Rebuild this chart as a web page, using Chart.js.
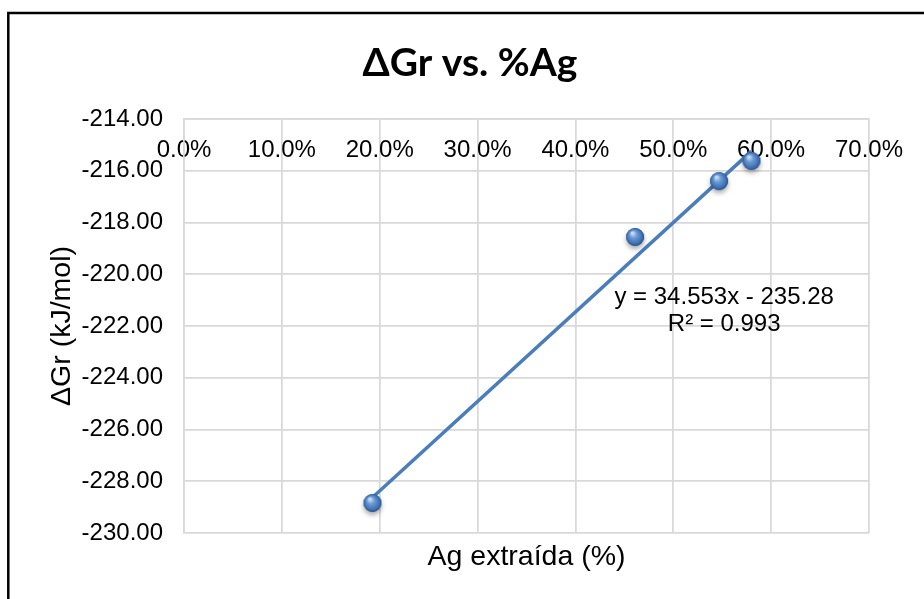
<!DOCTYPE html>
<html>
<head>
<meta charset="utf-8">
<title>ΔGr vs. %Ag</title>
<script src="https://cdn.jsdelivr.net/npm/chart.js@4.4.1/dist/chart.umd.min.js"></script>
<style>
  html, body { margin: 0; padding: 0; background: #fff; }
  canvas { display: block; }
</style>
</head>
<body>
<canvas id="grChart" width="924" height="599"></canvas>
<script>
// Silver extracted (fraction) vs. Gibbs energy of reaction
const agExtraida = [0.1926, 0.461, 0.5468, 0.5799];
const deltaGr = [-228.84, -218.56, -216.4, -215.62];

// linear trendline as reported
const trendSlope = 34.553;
const trendIntercept = -235.28;
const trendLabel = ["y = 34.553x - 235.28", "R² = 0.993"];

const yTicks = { min: -230, max: -214, step: 2 };
const xTicks = { min: 0, max: 0.7, step: 0.1 };

const AXIS_FONT = "'Liberation Sans', Arial, sans-serif";
const GRID = "#d9d9d9";

const xMin = Math.min(...agExtraida);
const xMax = Math.max(...agExtraida);
const trendPoints = [
  { x: xMin, y: trendSlope * xMin + trendIntercept },
  { x: xMax, y: trendSlope * xMax + trendIntercept },
];

// shaded sphere marker
function makeSphere(r) {
  const size = r * 2 + 14;
  const c = document.createElement("canvas");
  c.width = size;
  c.height = size;
  const g = c.getContext("2d");
  const cx = size / 2, cy = size / 2;
  g.save();
  g.shadowColor = "rgba(0,0,0,0.35)";
  g.shadowBlur = 5;
  g.shadowOffsetX = 0;
  g.shadowOffsetY = 3;
  g.beginPath();
  g.arc(cx, cy, r, 0, Math.PI * 2);
  g.fillStyle = "#3d6eab";
  g.fill();
  g.restore();
  const grad = g.createRadialGradient(cx - r * 0.3, cy - r * 0.45, r * 0.1, cx, cy, r);
  grad.addColorStop(0, "#c5dcf6");
  grad.addColorStop(0.35, "#6c9ad3");
  grad.addColorStop(0.8, "#3f72b3");
  grad.addColorStop(1, "#2a5088");
  g.beginPath();
  g.arc(cx, cy, r, 0, Math.PI * 2);
  g.fillStyle = grad;
  g.fill();
  return c;
}

const frame = {
  id: "frame",
  afterDraw(chart) {
    const ctx = chart.ctx;
    ctx.save();
    ctx.strokeStyle = "#000";
    ctx.lineWidth = 2.5;
    ctx.strokeRect(8.3, 13, 1000, 1000);
    ctx.restore();
  },
};

const equationLabel = {
  id: "equationLabel",
  afterDatasetsDraw(chart) {
    const { ctx, scales } = chart;
    const x = scales.x.getPixelForValue(0.552);
    const y = scales.y.getPixelForValue(-221.4);
    ctx.save();
    ctx.font = "24px " + AXIS_FONT;
    ctx.fillStyle = "#000";
    ctx.textAlign = "center";
    ctx.textBaseline = "middle";
    ctx.fillText(trendLabel[0], x, y - 13.5);
    ctx.fillText(trendLabel[1], x, y + 13.5);
    ctx.restore();
  },
};

const ctx = document.getElementById("grChart").getContext("2d");
const grChart = new Chart(ctx, {
  type: "scatter",
  data: {
    datasets: [
      {
        label: "ΔGr",
        data: agExtraida.map((v, i) => ({ x: v, y: deltaGr[i] })),
        pointStyle: makeSphere(9),
        pointRadius: 9,
        order: 0,
      },
      {
        type: "line",
        label: "Linear",
        data: trendPoints,
        borderColor: "#4a7ebb",
        borderWidth: 3.5,
        pointRadius: 0,
        fill: false,
        order: 1,
      },
    ],
  },
  options: {
    responsive: false,
    animation: false,
    devicePixelRatio: 1,
    layout: { padding: { left: 16, right: 0, top: 0, bottom: 0 } },
    plugins: {
      legend: { display: false },
      tooltip: { enabled: false },
      title: {
        display: true,
        text: "ΔGr vs. %Ag",
        color: "#000",
        font: { family: "Lato, 'Liberation Sans', sans-serif", size: 39, weight: "bold" },
        padding: { top: 39.6, bottom: 9.2 },
      },
    },
    scales: {
      x: {
        type: "linear",
        position: "top",
        min: xTicks.min,
        max: xTicks.max,
        grid: { color: GRID, lineWidth: 1.75, drawTicks: false },
        border: { color: GRID, width: 1.75 },
        ticks: {
          stepSize: xTicks.step,
          mirror: true,
          padding: 16.6,
          color: "#000",
          font: { family: AXIS_FONT, size: 24 },
          callback: (v) => (v * 100).toFixed(1) + "%",
        },
        afterFit(scale) { scale.height = 119 - 95.6; },
      },
      x2: {
        type: "linear",
        position: "bottom",
        min: xTicks.min,
        max: xTicks.max,
        grid: { display: false },
        border: { display: false },
        ticks: { display: false },
        title: {
          display: true,
          text: "Ag extraída (%)",
          color: "#000",
          font: { family: AXIS_FONT, size: 28.5 },
          padding: { top: 0, bottom: 25 },
        },
        afterFit(scale) { scale.height = 66; },
      },
      y: {
        type: "linear",
        position: "left",
        min: yTicks.min,
        max: yTicks.max,
        grid: { color: GRID, lineWidth: 1.75, drawTicks: false },
        border: { color: GRID, width: 1.75 },
        ticks: {
          stepSize: yTicks.step,
          padding: 21,
          color: "#000",
          font: { family: AXIS_FONT, size: 24 },
          callback: (v) => v.toFixed(2),
        },
        title: {
          display: true,
          text: "ΔGr (kJ/mol)",
          color: "#000",
          font: { family: AXIS_FONT, size: 28.5 },
          padding: { top: 29, bottom: 0 },
        },
        afterFit(scale) { scale.width = 168; },
      },
      y2: {
        type: "linear",
        position: "right",
        min: yTicks.min,
        max: yTicks.max,
        grid: { display: false },
        border: { display: false },
        ticks: { display: false },
        afterFit(scale) { scale.width = 55; },
      },
    },
  },
  plugins: [frame, equationLabel],
});
</script>
</body>
</html>
